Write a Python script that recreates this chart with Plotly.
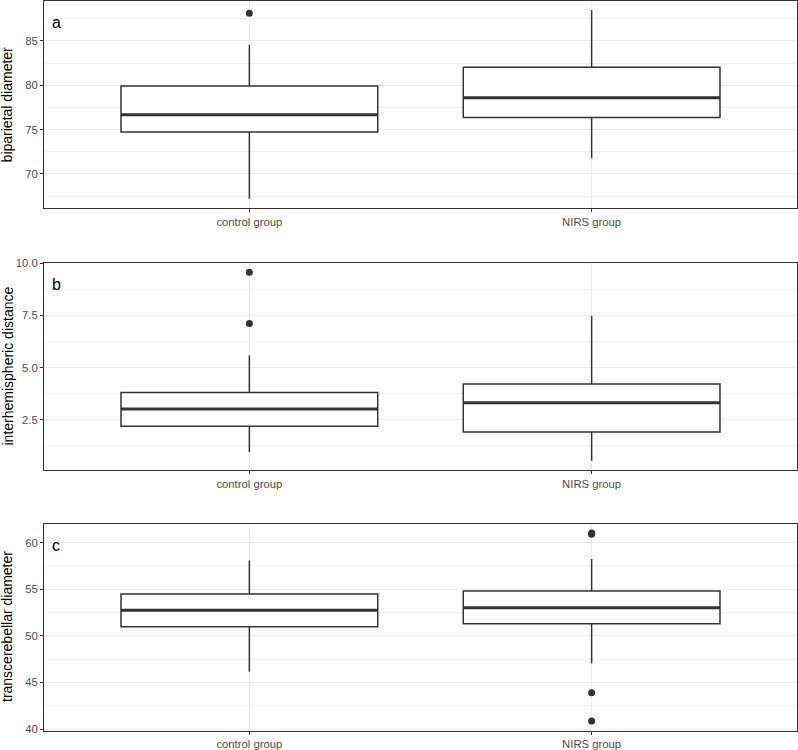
import plotly.graph_objects as go

categories = ["control group", "NIRS group"]
cat_pos = [1, 2]
box_width = 0.75

# a: biparietal diameter
bpd_q1 = [74.74, 76.35]
bpd_median = [76.66, 78.60]
bpd_q3 = [79.92, 82.03]
bpd_lower = [67.19, 71.76]
bpd_upper = [84.55, 88.49]
bpd_outliers = [[88.12], []]

# b: interhemispheric distance
ihd_q1 = [2.18, 1.91]
ihd_median = [3.01, 3.31]
ihd_q3 = [3.80, 4.21]
ihd_lower = [0.94, 0.52]
ihd_upper = [5.59, 7.49]
ihd_outliers = [[7.12, 9.58], []]

# c: transcerebellar diameter
tcd_q1 = [50.99, 51.31]
tcd_median = [52.74, 53.02]
tcd_q3 = [54.50, 54.82]
tcd_lower = [46.14, 47.07]
tcd_upper = [58.08, 58.26]
tcd_outliers = [[], [61.05, 60.90, 43.90, 40.85]]

panels = [
    dict(label="a", title="biparietal diameter", q1=bpd_q1, med=bpd_median, q3=bpd_q3,
         lo=bpd_lower, hi=bpd_upper, out=bpd_outliers, dtick=5, fmt="d"),
    dict(label="b", title="interhemispheric distance", q1=ihd_q1, med=ihd_median, q3=ihd_q3,
         lo=ihd_lower, hi=ihd_upper, out=ihd_outliers, dtick=2.5, fmt=".1f"),
    dict(label="c", title="transcerebellar diameter", q1=tcd_q1, med=tcd_median, q3=tcd_q3,
         lo=tcd_lower, hi=tcd_upper, out=tcd_outliers, dtick=5, fmt="d"),
]

H = 750
# panel pixel extents (top, bottom)
pix = [(0.5, 208.3), (262.7, 470.3), (523.5, 730.5)]
domains = [[1 - b / H, 1 - t / H] for t, b in pix]

FONT = "Liberation Sans, Arial, Helvetica, sans-serif"
DARK = "#333333"

fig = go.Figure()
layout_axes = {}
annotations = []

for i, p in enumerate(panels):
    n = "" if i == 0 else str(i + 1)
    xa, ya = "x" + n, "y" + n
    fig.add_trace(go.Box(
        x=cat_pos, q1=p["q1"], median=p["med"], q3=p["q3"],
        lowerfence=p["lo"], upperfence=p["hi"],
        width=box_width, whiskerwidth=0, boxpoints=False,
        fillcolor="white", line=dict(color=DARK, width=1.5),
        xaxis=xa, yaxis=ya, showlegend=False, hoverinfo="skip",
    ))
    for j in range(len(cat_pos)):
        fig.add_trace(go.Scatter(
            x=[cat_pos[j] - box_width / 2, cat_pos[j] + box_width / 2],
            y=[p["med"][j], p["med"][j]], mode="lines",
            line=dict(color=DARK, width=3), xaxis=xa, yaxis=ya,
            showlegend=False, hoverinfo="skip",
        ))
        if p["out"][j]:
            fig.add_trace(go.Scatter(
                x=[cat_pos[j]] * len(p["out"][j]), y=p["out"][j], mode="markers",
                marker=dict(color=DARK, size=7), xaxis=xa, yaxis=ya,
                showlegend=False, hoverinfo="skip",
            ))
    allv = p["lo"] + p["hi"] + [v for o in p["out"] for v in o]
    vmin, vmax = min(allv), max(allv)
    pad = 0.05 * (vmax - vmin)
    layout_axes["xaxis" + n] = dict(
        domain=[0, 1], anchor=ya, range=[0.4, 2.6], automargin=False,
        tickvals=cat_pos, ticktext=categories,
        showgrid=True, gridcolor="#EBEBEB", gridwidth=1,
        zeroline=False, showline=True, mirror=True, linecolor=DARK, linewidth=1,
        ticks="outside", ticklen=3, tickcolor=DARK, tickwidth=1,
        tickfont=dict(family=FONT, size=11.3, color="#4D4D4D"),
    )
    layout_axes["yaxis" + n] = dict(
        domain=domains[i], anchor=xa, range=[vmin - pad, vmax + pad], automargin=False,
        dtick=p["dtick"], tick0=0, tickformat=p["fmt"],
        showgrid=True, gridcolor="#EBEBEB", gridwidth=1,
        minor=dict(dtick=p["dtick"] / 2, tick0=0, showgrid=True,
                   gridcolor="#F1F1F1", gridwidth=0.6, ticks=""),
        zeroline=False, showline=True, mirror=True, linecolor=DARK, linewidth=1,
        ticks="outside", ticklen=3, tickcolor=DARK, tickwidth=1,
        tickfont=dict(family=FONT, size=11.3, color="#4D4D4D"),
    )
    annotations.append(dict(
        text=p["label"], xref=xa + " domain", yref=ya + " domain",
        x=0, y=1, xshift=12, yshift=-22, xanchor="center", yanchor="middle",
        showarrow=False, font=dict(family=FONT, size=16, color="black"),
    ))
    annotations.append(dict(
        text=p["title"], xref="paper", yref=ya + " domain",
        x=0, y=0.5, xshift=-37, xanchor="center", yanchor="middle",
        textangle=-90, showarrow=False,
        font=dict(family=FONT, size=14, color="black"),
    ))

fig.update_layout(
    width=798, height=750,
    margin=dict(l=44, r=1, t=0, b=0, autoexpand=False),
    paper_bgcolor="white", plot_bgcolor="white",
    showlegend=False, annotations=annotations,
    **layout_axes,
)

fig.write_html("out.html")
